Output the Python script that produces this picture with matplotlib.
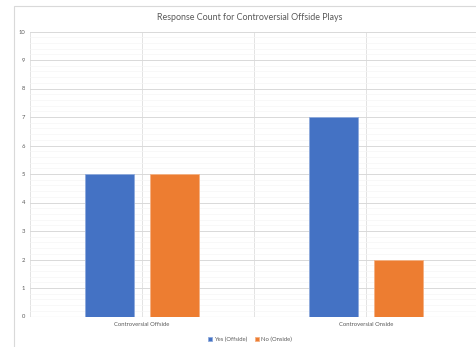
import matplotlib
matplotlib.use("Agg")
import matplotlib.pyplot as plt
import numpy as np
from matplotlib.patches import Rectangle

plt.rcParams['font.family'] = ['Lato', 'DejaVu Sans']

TEXT_GRAY = "#595959"
BLUE = "#4472C4"
ORANGE = "#ED7D31"

categories = ["Controversial Offside", "Controversial Onside"]
yes_offside = [5, 7]
no_onside = [5, 2]
series_names = ["Yes (Offside)", "No (Onside)"]

fig = plt.figure(figsize=(4.77, 3.47), dpi=100)
# outer chart frame, partly outside the canvas
fig.patches.append(Rectangle((14 / 477, -0.1), 1.2, 1 - 6 / 347 + 0.1,
                             transform=fig.transFigure, fill=False,
                             edgecolor="#D9D9D9", linewidth=0.8))

ax = fig.add_axes([30 / 477, 1 - 316.5 / 347, 448 / 477, 285 / 347])

x = np.arange(len(categories))
w = 0.219
off = 0.143
ax.bar(x - off, yes_offside, w, color=BLUE, edgecolor="#8FAADC", linewidth=0.6,
       label=series_names[0], zorder=3)
ax.bar(x + off, no_onside, w, color=ORANGE, edgecolor="#F4B183", linewidth=0.6,
       label=series_names[1], zorder=3)

ax.set_xlim(-0.5, 1.5)
ax.set_ylim(0, 10)
ax.set_yticks(range(0, 11))
ax.set_yticks(np.arange(0, 10.01, 0.2), minor=True)
ax.set_xticks(x)
ax.set_xticklabels(categories)

# gridlines: major/minor horizontal, plus vertical at centres and boundaries
ax.grid(axis="y", which="major", color="#D9D9D9", linewidth=0.7, zorder=0)
ax.grid(axis="y", which="minor", color="#F5F5F5", linewidth=0.5, zorder=0)
for xv in np.arange(-0.5, 1.51, 0.5):
    ax.axvline(xv, color="#E3E3E3", linewidth=0.7, zorder=0)

for s in ax.spines.values():
    s.set_visible(False)
ax.axhline(0, color="#D9D9D9", linewidth=0.8, zorder=2)

ax.tick_params(axis="both", which="both", length=0, labelsize=4.2, colors=TEXT_GRAY)
ax.tick_params(axis="y", pad=3.5)
ax.tick_params(axis="x", pad=4)

fig.text(250 / 477, 1 - 18 / 347, "Response Count for Controversial Offside Plays",
         ha="center", va="center", fontsize=6.4, color=TEXT_GRAY)

fig.legend(loc="center", bbox_to_anchor=(250 / 477, 1 - 339 / 347), ncol=2,
           frameon=False, fontsize=4.2, labelcolor=TEXT_GRAY, handlelength=0.7,
           handleheight=0.7, handletextpad=0.4, columnspacing=1.2)

fig.savefig("out.png", dpi=100)
